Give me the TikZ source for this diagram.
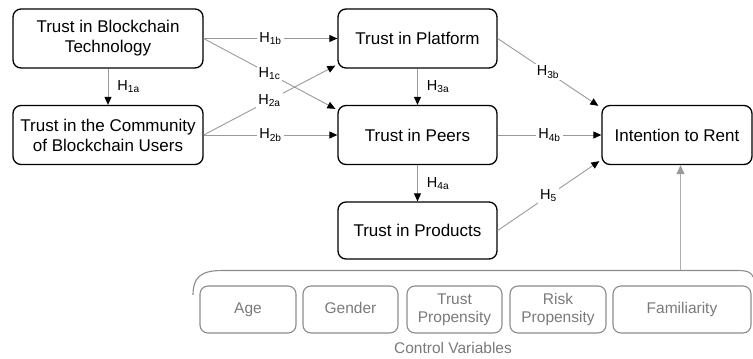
\documentclass[tikz,border=0pt]{standalone}
\usepackage{fontspec}
\setmainfont{Liberation Sans}
\usetikzlibrary{arrows.meta}
\definecolor{lgray}{HTML}{9A9A9A}
\definecolor{cgray}{HTML}{8C8C8C}
\definecolor{tgray}{HTML}{7A7A7A}
\begin{document}
\begin{tikzpicture}[x=1pt,y=-1pt,
  box/.style={draw=black, line width=1.3pt, rounded corners=8pt, align=center,
    font=\fontsize{17}{20}\selectfont, inner sep=0pt, minimum height=59pt},
  cbox/.style={draw=cgray, line width=1.1pt, rounded corners=8pt, align=center,
    text=tgray, font=\fontsize{15.5}{18}\selectfont, minimum height=47pt, inner sep=0pt},
  link/.style={draw=lgray, line width=0.9pt, -{Triangle[length=8pt,width=7pt,black]}},
  glink/.style={draw=lgray!80, line width=1pt, -{Triangle[length=9pt,width=8pt,lgray]}},
  hl/.style={fill=white, inner sep=2pt, font=\fontsize{14.5}{16}\selectfont},
  vl/.style={inner sep=0pt, font=\fontsize{14.5}{16}\selectfont}]
\useasboundingbox (0,0) rectangle (753,359);

\node[box, minimum width=190pt] (bt) at (108,38.5) {Trust in Blockchain\\Technology};
\node[box, minimum width=190pt] (cu) at (108,135) {Trust in the Community\\of Blockchain Users};
\node[box, minimum width=159pt] (pl) at (417.5,38.5) {Trust in Platform};
\node[box, minimum width=159pt] (pe) at (417.5,135) {Trust in Peers};
\node[box, minimum width=159pt, minimum height=57pt] (pr) at (417.5,230.5) {Trust in Products};
\node[box, minimum width=150pt] (ir) at (677,135) {Intention to Rent};

\draw[link] (bt.south) -- node[vl, right=9pt] {H\textsubscript{1a}} (cu.north);
\draw[link] (bt.east) -- node[hl] {H\textsubscript{1b}} (pl.west);
\draw[link] (bt.east) -- node[hl] {H\textsubscript{1c}} ([xshift=-2pt,yshift=-4pt]pe.north west);
\draw[link] (cu.east) -- node[hl] {H\textsubscript{2a}} ([xshift=-2pt,yshift=3pt]pl.south west);
\draw[link] (cu.east) -- node[hl] {H\textsubscript{2b}} (pe.west);
\draw[link] (pl.south) -- node[vl, right=9pt] {H\textsubscript{3a}} (pe.north);
\draw[link] (pe.south) -- node[vl, right=9pt] {H\textsubscript{4a}} (pr.north);
\draw[link] (pl.east) -- node[hl] {H\textsubscript{3b}} ([xshift=-3pt,yshift=-1pt]ir.north west);
\draw[link] (pe.east) -- node[hl] {H\textsubscript{4b}} (ir.west);
\draw[link] (pr.east) -- node[hl] {H\textsubscript{5}} ([xshift=-2pt,yshift=4pt]ir.south west);

\node[cbox, minimum width=96pt] (age) at (248,309.5) {\strut Age};
\node[cbox, minimum width=95pt] (gen) at (350.5,309.5) {\strut Gender};
\node[cbox, minimum width=95pt] (tp) at (454.5,309.5) {Trust\\Propensity};
\node[cbox, minimum width=96pt] (rp) at (558,309.5) {Risk\\Propensity};
\node[cbox, minimum width=138pt] (fa) at (682,309.5) {\strut Familiarity};
\node[text=tgray, font=\fontsize{15.5}{18}\selectfont, inner sep=0pt] (cv) at (453,348) {Control Variables};

\draw[cgray, line width=1.1pt] (193,295) .. controls (193,278) and (200,270.5) .. (222,270.5)
  -- (738,270.5) .. controls (748,270.5) and (752,273) .. (753,277);
\coordinate (ct) at (680.5,270);
\draw[glink] (ct) -- (ct |- ir.south);
\end{tikzpicture}
\end{document}
